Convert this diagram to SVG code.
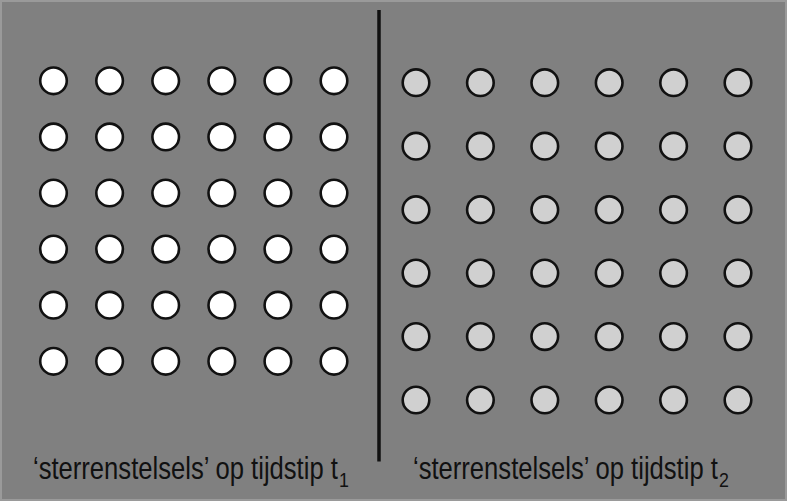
<svg xmlns="http://www.w3.org/2000/svg" width="787" height="501" viewBox="0 0 787 501">
<style>
.bg{fill:#808080;stroke:#9a9a9a;stroke-width:2}
.w{fill:#ffffff;stroke:#111111;stroke-width:2.6}
.g{fill:#d0d0d0;stroke:#111111;stroke-width:2.6}
.lbl{font-family:"Liberation Sans",Arial,sans-serif;font-size:32px;fill:#111111}
.sub{font-family:"Liberation Sans",Arial,sans-serif;font-size:21px;fill:#111111}
</style>
<defs>
<circle id="cw" r="13.3" class="w"/>
<circle id="cg" r="13.3" class="g"/>
</defs>
<rect class="bg" x="1" y="1" width="785" height="499"/>
<g id="divider">
<line x1="379" y1="10" x2="379" y2="461.5" stroke="#111111" stroke-width="3.5"/>
</g>
<g id="left-grid">
<g id="l-r1"><use href="#cw" x="53.5" y="80.8"/><use href="#cw" x="109.6" y="80.8"/><use href="#cw" x="165.7" y="80.8"/><use href="#cw" x="221.8" y="80.8"/><use href="#cw" x="277.9" y="80.8"/><use href="#cw" x="334" y="80.8"/></g>
<g id="l-r2"><use href="#cw" x="53.5" y="136.9"/><use href="#cw" x="109.6" y="136.9"/><use href="#cw" x="165.7" y="136.9"/><use href="#cw" x="221.8" y="136.9"/><use href="#cw" x="277.9" y="136.9"/><use href="#cw" x="334" y="136.9"/></g>
<g id="l-r3"><use href="#cw" x="53.5" y="193"/><use href="#cw" x="109.6" y="193"/><use href="#cw" x="165.7" y="193"/><use href="#cw" x="221.8" y="193"/><use href="#cw" x="277.9" y="193"/><use href="#cw" x="334" y="193"/></g>
<g id="l-r4"><use href="#cw" x="53.5" y="249.1"/><use href="#cw" x="109.6" y="249.1"/><use href="#cw" x="165.7" y="249.1"/><use href="#cw" x="221.8" y="249.1"/><use href="#cw" x="277.9" y="249.1"/><use href="#cw" x="334" y="249.1"/></g>
<g id="l-r5"><use href="#cw" x="53.5" y="305.2"/><use href="#cw" x="109.6" y="305.2"/><use href="#cw" x="165.7" y="305.2"/><use href="#cw" x="221.8" y="305.2"/><use href="#cw" x="277.9" y="305.2"/><use href="#cw" x="334" y="305.2"/></g>
<g id="l-r6"><use href="#cw" x="53.5" y="361.3"/><use href="#cw" x="109.6" y="361.3"/><use href="#cw" x="165.7" y="361.3"/><use href="#cw" x="221.8" y="361.3"/><use href="#cw" x="277.9" y="361.3"/><use href="#cw" x="334" y="361.3"/></g>
</g>
<g id="right-grid">
<g id="r-r1"><use href="#cg" x="416" y="82.7"/><use href="#cg" x="480.4" y="82.7"/><use href="#cg" x="544.8" y="82.7"/><use href="#cg" x="609.2" y="82.7"/><use href="#cg" x="673.6" y="82.7"/><use href="#cg" x="738" y="82.7"/></g>
<g id="r-r2"><use href="#cg" x="416" y="146.2"/><use href="#cg" x="480.4" y="146.2"/><use href="#cg" x="544.8" y="146.2"/><use href="#cg" x="609.2" y="146.2"/><use href="#cg" x="673.6" y="146.2"/><use href="#cg" x="738" y="146.2"/></g>
<g id="r-r3"><use href="#cg" x="416" y="209.7"/><use href="#cg" x="480.4" y="209.7"/><use href="#cg" x="544.8" y="209.7"/><use href="#cg" x="609.2" y="209.7"/><use href="#cg" x="673.6" y="209.7"/><use href="#cg" x="738" y="209.7"/></g>
<g id="r-r4"><use href="#cg" x="416" y="273.1"/><use href="#cg" x="480.4" y="273.1"/><use href="#cg" x="544.8" y="273.1"/><use href="#cg" x="609.2" y="273.1"/><use href="#cg" x="673.6" y="273.1"/><use href="#cg" x="738" y="273.1"/></g>
<g id="r-r5"><use href="#cg" x="416" y="336.6"/><use href="#cg" x="480.4" y="336.6"/><use href="#cg" x="544.8" y="336.6"/><use href="#cg" x="609.2" y="336.6"/><use href="#cg" x="673.6" y="336.6"/><use href="#cg" x="738" y="336.6"/></g>
<g id="r-r6"><use href="#cg" x="416" y="400"/><use href="#cg" x="480.4" y="400"/><use href="#cg" x="544.8" y="400"/><use href="#cg" x="609.2" y="400"/><use href="#cg" x="673.6" y="400"/><use href="#cg" x="738" y="400"/></g>
</g>
<g id="label-left">
<text class="lbl" transform="translate(33,479) scale(0.8,1)">‘sterrenstelsels’ op tijdstip t</text>
<text class="sub" transform="translate(339,487) scale(0.85,1)">1</text>
</g>
<g id="label-right">
<text class="lbl" transform="translate(413,479) scale(0.8,1)">‘sterrenstelsels’ op tijdstip t</text>
<text class="sub" transform="translate(719,487) scale(0.85,1)">2</text>
</g>
</svg>
